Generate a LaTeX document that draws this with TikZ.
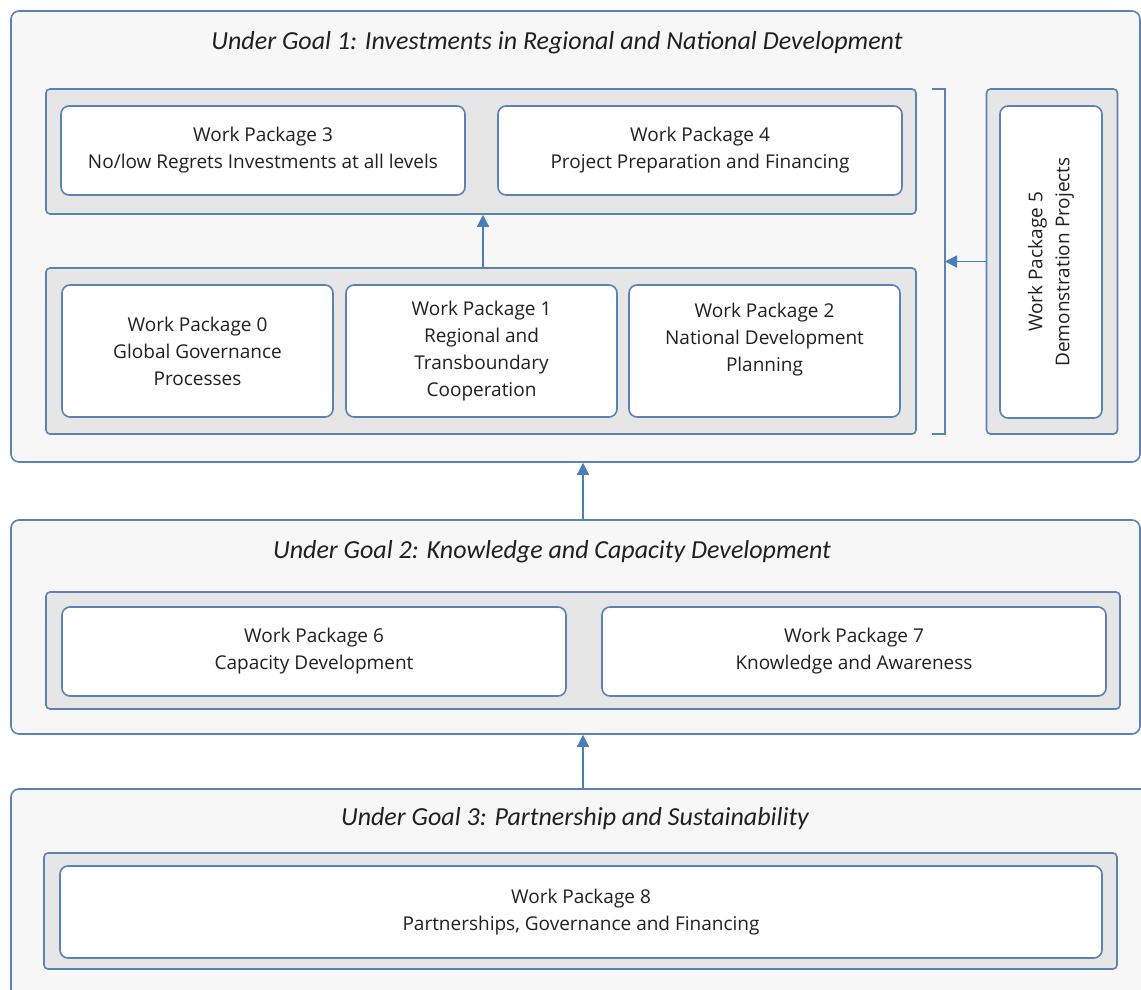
\documentclass[tikz,border=0pt]{standalone}
\usepackage{fontspec}
\setmainfont{Open Sans}
\newfontfamily\titlefont{Carlito}
\usetikzlibrary{arrows.meta, positioning}
\definecolor{edge}{HTML}{5B82B0}
\definecolor{arrowblue}{HTML}{4A7EBB}
\definecolor{goalfill}{HTML}{F7F7F7}
\definecolor{groupfill}{HTML}{E6E6E6}
\definecolor{ink}{HTML}{202020}

\begin{document}
\begin{tikzpicture}[x=0.5pt, y=-0.5pt,
  goalbox/.style={draw=edge, line width=0.8pt, fill=goalfill, rounded corners=4pt, inner sep=0pt},
  groupbox/.style={draw=edge, line width=0.8pt, fill=groupfill, rounded corners=2pt, inner sep=0pt},
  wpbox/.style={draw=edge, line width=0.8pt, fill=white, rounded corners=4pt, inner sep=0pt,
    align=center, text=ink, font=\fontsize{9.5}{13.5}\selectfont},
  goaltitle/.style={text=ink, font=\titlefont\itshape\fontsize{13}{15}\selectfont},
  link/.style={draw=arrowblue, line width=0.8pt, -{Triangle[length=6pt, width=6pt]}}]
\useasboundingbox (0,0) rectangle (1141,990);
\clip (0,0) rectangle (1141,990);
\fill[white] (0,0) rectangle (1141,990);

% goal 1
\node (goal1) at (575.5,236.5) [goalbox, minimum width=564.5pt, minimum height=225.5pt] {};
\node (title1) at (557,43) [goaltitle] {Under Goal 1: Investments in Regional and National Development};
\node (g1top) at (481,151.5) [groupbox, minimum width=435pt, minimum height=62.5pt] {};
\node (wp3) at (263,150.5) [wpbox, minimum width=202pt, minimum height=44.5pt] {Work Package 3\\No/low Regrets Investments at all levels};
\node (wp4) at (700,150.5) [wpbox, minimum width=202pt, minimum height=44.5pt] {Work Package 4\\Project Preparation and Financing};
\node (g1bot) at (481,351) [groupbox, minimum width=435pt, minimum height=83pt] {};
\node (wp0) at (197.5,351) [wpbox, minimum width=135.5pt, minimum height=66pt] {Work Package 0\\Global Governance\\Processes};
\node (wp1) at (481.5,351) [wpbox, minimum width=135.5pt, minimum height=66pt] {Work Package 1\\Regional and\\Transboundary\\Cooperation};
\node (wp2) at (764.5,351) [wpbox, minimum width=135.5pt, minimum height=66pt] {Work Package 2\\National Development\\Planning\\\mbox{}};
\node (g1side) at (1052,261.5) [groupbox, minimum width=65.5pt, minimum height=172.5pt] {};
\node (wp5) at (1051,262) [wpbox, minimum width=51pt, minimum height=156pt] {};
\node (wp5text) at (wp5.center) [rotate=90, align=center, text=ink, font=\fontsize{9.5}{13.5}\selectfont] {Work Package 5\\Demonstration Projects};
\draw[draw=edge, line width=0.8pt] (932,89) -- (945,89) -- (945,434) -- (932,434);
\coordinate (brk) at (945,261.5);

% goal 2
\node (goal2) at (575.5,627) [goalbox, minimum width=564.5pt, minimum height=107pt] {};
\node (title2) at (552,552) [goaltitle] {Under Goal 2: Knowledge and Capacity Development};
\node (g2box) at (583,650.5) [groupbox, minimum width=537pt, minimum height=58.5pt] {};
\node (wp6) at (314,651.5) [wpbox, minimum width=252pt, minimum height=44.5pt] {Work Package 6\\Capacity Development};
\node (wp7) at (854,651.5) [wpbox, minimum width=252pt, minimum height=44.5pt] {Work Package 7\\Knowledge and Awareness};

% goal 3
\node (goal3) at (580.5,899.5) [goalbox, minimum width=569.5pt, minimum height=110.5pt] {};
\node (title3) at (575,819) [goaltitle] {Under Goal 3: Partnership and Sustainability};
\node (g3box) at (580.5,911) [groupbox, minimum width=536.5pt, minimum height=58pt] {};
\node (wp8) at (581,912) [wpbox, minimum width=521pt, minimum height=46pt] {Work Package 8\\Partnerships, Governance and Financing};

% connectors
\draw[link] (g1bot.north -| 483,0) -- (g1top.south -| 483,0);
\draw[link] (g1side.west) -- (brk);
\draw[link] (goal2.north -| g2box.north) -- (goal1.south -| g2box.north);
\draw[link] (goal3.north -| g2box.north) -- (goal2.south -| g2box.north);
\end{tikzpicture}
\end{document}
